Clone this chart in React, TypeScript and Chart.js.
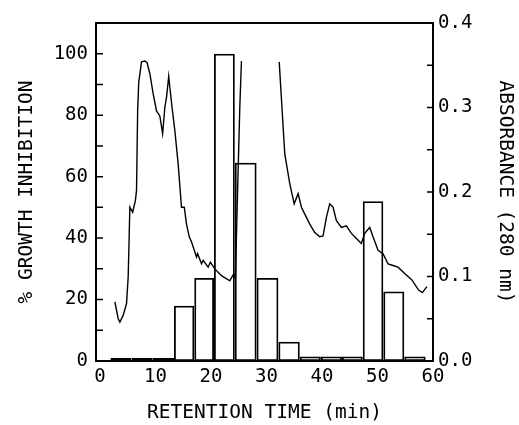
import { useEffect, useRef } from "react";
import { Chart, registerables } from "chart.js";

Chart.register(...registerables);

// Fractions (retention time, min) – centre of each collected fraction
const binCenters = [3.8, 7.6, 11.45, 15.25, 18.75, 22.35, 26.25, 30.2, 34.1, 37.9, 41.7, 45.5, 49.2, 52.9, 56.75];
// % growth inhibition per fraction
const inhibition = [1, 1, 1, 18, 27, 100, 64.5, 27, 6.3, 1.5, 1.5, 1.5, 52, 22.6, 1.5];

// Absorbance trace (280 nm); null = off scale (gap)
const absTime = [
  2.7, 3.3, 3.6, 4.2, 4.8, 5.1, 5.4, 5.9, 6.4, 6.6, 6.8, 7.0, 7.5, 8.1, 8.5, 9.0, 9.6, 10.2, 10.8, 11.3,
  11.7, 12.0, 12.4, 12.6, 13.0, 13.5, 14.1, 14.7, 15.2, 15.6, 16.1, 16.5, 17.4, 17.6, 18.3, 18.6, 19.5, 19.9,
  20.7, 21.9, 23.4, 24.1, 24.4, 24.8, 25.2, 25.5, 28.9, 32.3, 33.3, 34.2, 35.0, 35.7, 36.3, 37.2, 37.8, 38.7,
  39.6, 40.2, 40.8, 41.4, 42.0, 42.6, 43.5, 44.4, 45.3, 46.2, 47.1, 47.7, 48.6, 49.2, 50.1, 51.0, 51.9, 52.8,
  53.7, 55.0, 56.2, 57.4, 58.1, 58.9,
];
const absorbance = [
  0.07, 0.05, 0.046, 0.054, 0.068, 0.1, 0.182, 0.176, 0.19, 0.202, 0.296, 0.33, 0.354, 0.355, 0.353, 0.34,
  0.316, 0.296, 0.29, 0.269, 0.3, 0.312, 0.337, 0.324, 0.3, 0.273, 0.233, 0.182, 0.182, 0.162, 0.147, 0.141,
  0.123, 0.127, 0.115, 0.119, 0.111, 0.117, 0.109, 0.101, 0.095, 0.103, 0.098, 0.2, 0.3, 0.355, null, 0.354,
  0.245, 0.21, 0.186, 0.198, 0.182, 0.17, 0.162, 0.152, 0.147, 0.148, 0.17, 0.186, 0.182, 0.166, 0.158, 0.16,
  0.151, 0.145, 0.139, 0.151, 0.158, 0.147, 0.131, 0.127, 0.115, 0.113, 0.111, 0.103, 0.096, 0.084, 0.081,
  0.088,
];

const xTicks = [0, 10, 20, 30, 40, 50, 60];
const leftTicks = [0, 20, 40, 60, 80, 100];
const rightTicks = [0, 0.1, 0.2, 0.3, 0.4];
const leftMinorTicks = [10, 20, 30, 40, 50, 60, 70, 80, 90, 100];
const rightMinorTicks = [0.05, 0.1, 0.15, 0.2, 0.25, 0.3, 0.35];

const FONT = "'DejaVu Sans Mono', monospace";

const framePlugin = {
  id: "frame",
  afterDraw(chart: any) {
    const { ctx, chartArea, scales } = chart;
    const { left, right, top, bottom } = chartArea;
    ctx.save();
    ctx.strokeStyle = "#000";
    ctx.lineWidth = 2;
    ctx.strokeRect(left, top, right - left, bottom - top);
    ctx.lineWidth = 1.5;
    ctx.beginPath();
    leftMinorTicks.forEach((v) => {
      const y = scales.y.getPixelForValue(v);
      ctx.moveTo(left, y);
      ctx.lineTo(left + 7, y);
    });
    rightMinorTicks.forEach((v) => {
      const y = scales.y1.getPixelForValue(v);
      ctx.moveTo(right, y);
      ctx.lineTo(right - 6, y);
    });
    ctx.stroke();
    ctx.restore();
  },
};

export default function App() {
  const ref = useRef<HTMLCanvasElement | null>(null);

  useEffect(() => {
    if (!ref.current) return;
    const chart = new Chart(ref.current, {
      type: "bar",
      data: {
        datasets: [
          {
            type: "line",
            data: absTime.map((t, i) => ({ x: t, y: absorbance[i] })) as any,
            yAxisID: "y1",
            borderColor: "#000",
            borderWidth: 1.4,
            pointRadius: 0,
            fill: false,
            spanGaps: false,
            tension: 0,
            order: 0,
          } as any,
          {
            type: "bar",
            data: binCenters.map((c, i) => ({ x: c, y: inhibition[i] })) as any,
            yAxisID: "y",
            backgroundColor: "rgba(0,0,0,0)",
            borderColor: "#000",
            borderWidth: 1.8,
            borderSkipped: false,
            inflateAmount: 0,
            barThickness: "flex",
            categoryPercentage: 1,
            barPercentage: 1,
            order: 1,
          } as any,
        ],
      },
      options: {
        responsive: false,
        animation: false,
        devicePixelRatio: 1,
        layout: { padding: { top: 23, left: 0, right: 0, bottom: 0 } },
        plugins: { legend: { display: false }, tooltip: { enabled: false } },
        scales: {
          x: {
            type: "linear",
            min: -0.7,
            max: 60,
            offset: false,
            afterBuildTicks: (s: any) => {
              s.ticks = xTicks.map((v) => ({ value: v }));
            },
            afterFit: (s: any) => {
              s.height = 64;
            },
            grid: { display: false, drawTicks: false },
            border: { display: false },
            ticks: { font: { family: FONT, size: 19 }, color: "#000", padding: 5, maxRotation: 0, autoSkip: false },
            title: {
              display: true,
              text: "RETENTION TIME (min)",
              font: { family: FONT, size: 19.5 },
              color: "#000",
              padding: { top: 0, bottom: 0 },
            },
          },
          y: {
            position: "left",
            min: 0,
            max: 110,
            afterBuildTicks: (s: any) => {
              s.ticks = leftTicks.map((v) => ({ value: v }));
            },
            afterFit: (s: any) => {
              s.width = 96;
            },
            grid: { display: false, drawTicks: false },
            border: { display: false },
            ticks: { font: { family: FONT, size: 19 }, color: "#000", padding: 8 },
            title: {
              display: true,
              text: "% GROWTH INHIBITION",
              font: { family: FONT, size: 19.5 },
              color: "#000",
              padding: { top: 15, bottom: 0 },
            },
          },
          y1: {
            position: "right",
            min: 0,
            max: 0.4,
            afterBuildTicks: (s: any) => {
              s.ticks = rightTicks.map((v) => ({ value: v }));
            },
            afterFit: (s: any) => {
              s.width = 86;
            },
            grid: { display: false, drawTicks: false },
            border: { display: false },
            ticks: {
              font: { family: FONT, size: 19 },
              color: "#000",
              padding: 5,
              callback: (v: any) => Number(v).toFixed(1),
            },
            title: {
              display: true,
              text: "ABSORBANCE (280 nm)",
              font: { family: FONT, size: 19.5 },
              color: "#000",
              padding: { top: 2, bottom: 0 },
            },
          },
        },
      },
      plugins: [framePlugin],
    });
    return () => chart.destroy();
  }, []);

  return (
    <div style={{ position: "absolute", left: 0, top: 0, width: 519, height: 425, background: "#fff" }}>
      <canvas ref={ref} width={519} height={425} />
    </div>
  );
}
